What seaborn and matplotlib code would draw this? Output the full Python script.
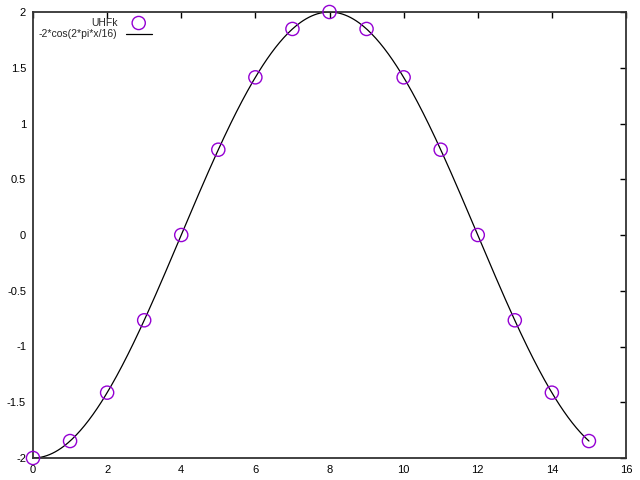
import numpy as np
import pandas as pd
import matplotlib
matplotlib.use("Agg")
import matplotlib.pyplot as plt
import seaborn as sns

# sample points (UHFk)
k_vals = [0, 1, 2, 3, 4, 5, 6, 7, 8, 9, 10, 11, 12, 13, 14, 15]
uhfk_vals = [-2.0, -1.848, -1.414, -0.765, 0.0, 0.765, 1.414, 1.848,
             2.0, 1.848, 1.414, 0.765, 0.0, -0.765, -1.414, -1.848]

x_ticks = [0, 2, 4, 6, 8, 10, 12, 14, 16]
y_ticks = [-2, -1.5, -1, -0.5, 0, 0.5, 1, 1.5, 2]
y_tick_labels = ['-2', '-1.5', '-1', '-0.5', '0', '0.5', '1', '1.5', '2']

sns.set_style("white")
plt.rcParams['font.family'] = ['Liberation Sans', 'DejaVu Sans']

pts = pd.DataFrame({'x': k_vals, 'y': uhfk_vals})
xs = np.linspace(0, 15, 400)
curve = pd.DataFrame({'x': xs, 'y': -2 * np.cos(2 * np.pi * xs / 16)})

fig = plt.figure(figsize=(6.4, 4.8), dpi=100)
ax = fig.add_axes([33 / 640, 22 / 480, 593 / 640, 446 / 480])

sns.scatterplot(data=pts, x='x', y='y', ax=ax, marker='o', s=90,
                facecolors='none', edgecolor='#9400d3', linewidth=1.0,
                label='UHFk', zorder=3, clip_on=False)
sns.lineplot(data=curve, x='x', y='y', ax=ax, color='black', linewidth=0.9,
             label='-2*cos(2*pi*x/16)', zorder=2)

ax.set_xlim(0, 16)
ax.set_ylim(-2, 2)
ax.set_xticks(x_ticks)
ax.set_yticks(y_ticks)
ax.set_yticklabels(y_tick_labels)
ax.set_xlabel('')
ax.set_ylabel('')
ax.tick_params(direction='in', length=4, width=1, top=True, right=True,
               labelsize=8, pad=5, colors='black')
for s in ax.spines.values():
    s.set_linewidth(1.3)
    s.set_color('#333333')

leg = ax.legend(loc='upper left', bbox_to_anchor=(0.0, 1.0), frameon=False,
                markerfirst=False, alignment='right', fontsize=7.5,
                handlelength=2.5, handletextpad=0.8, labelspacing=0.15,
                borderaxespad=0.15)

fig.savefig('out.png', dpi=100)
